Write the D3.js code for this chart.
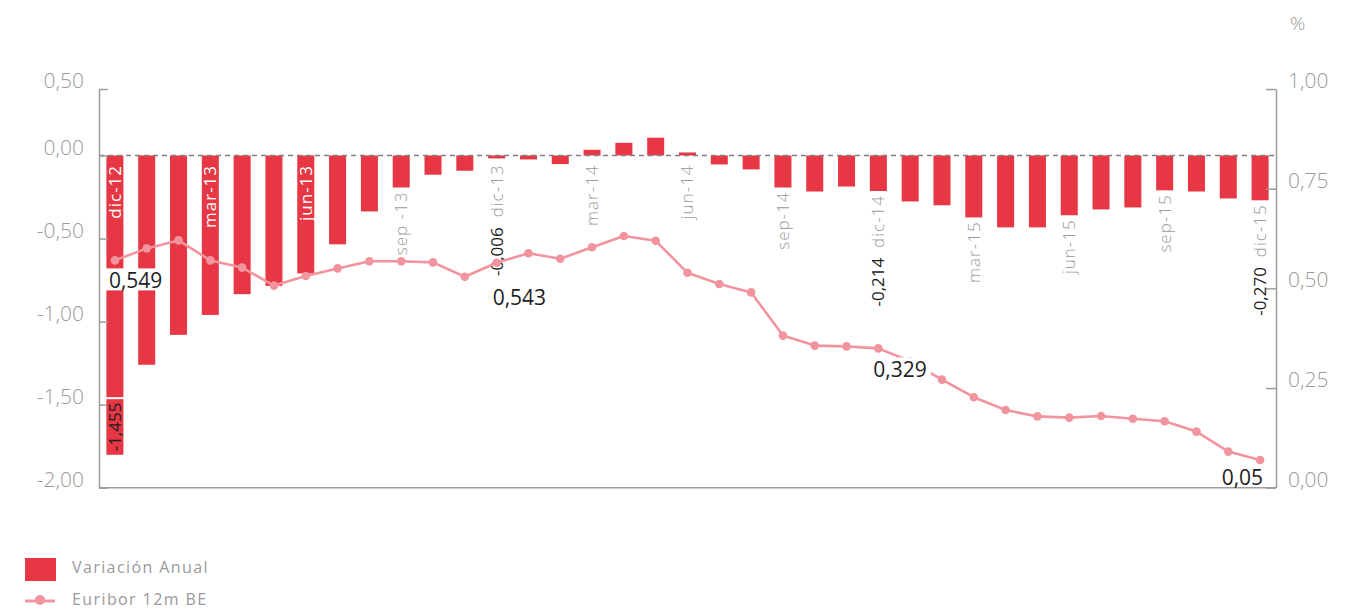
<!DOCTYPE html>
<html><head><meta charset="utf-8">
<script src="https://cdn.jsdelivr.net/npm/d3@7"></script>
<style>
html,body{margin:0;padding:0;background:#fff;}
svg{display:block;font-family:"Open Sans",sans-serif;}
</style></head><body>
<svg id="chart" width="1366" height="610"></svg>
<script>
const categories = ["dic-12","ene-13","feb-13","mar-13","abr-13","may-13","jun-13","jul-13","ago-13","sep-13","oct-13","nov-13",
  "dic-13","ene-14","feb-14","mar-14","abr-14","may-14","jun-14","jul-14","ago-14","sep-14","oct-14","nov-14",
  "dic-14","ene-15","feb-15","mar-15","abr-15","may-15","jun-15","jul-15","ago-15","sep-15","oct-15","nov-15","dic-15"];
const variacionAnual = [-1.455,-1.26,-1.08,-0.96,-0.835,-0.785,-0.71,-0.535,-0.337,-0.193,-0.116,-0.092,
  -0.006,-0.024,-0.052,0.034,0.076,0.107,0.016,-0.054,-0.084,-0.193,-0.217,-0.187,
  -0.214,-0.277,-0.30,-0.373,-0.433,-0.433,-0.36,-0.325,-0.313,-0.21,-0.217,-0.259,-0.270];
const euribor = [0.549,0.579,0.599,0.549,0.531,0.486,0.510,0.529,0.547,0.547,0.544,0.508,
  0.543,0.567,0.553,0.582,0.610,0.598,0.518,0.490,0.469,0.361,0.336,0.334,
  0.329,0.297,0.251,0.207,0.175,0.159,0.156,0.160,0.153,0.147,0.121,0.071,0.05];
const leftTickValues = [-2,-1.5,-1,-0.5,0,0.4];
const leftTickLabels = ["-2,00","-1,50","-1,00","-0,50","0,00","0,50"];
const rightTickValues = [0,0.25,0.5,0.75,1];
const rightTickLabels = ["0,00","0,25","0,50","0,75","1,00"];
const xTickCats = ["dic-12","mar-13","jun-13","sep-13","dic-13","mar-14","jun-14","sep-14","dic-14","mar-15","jun-15","sep-15","dic-15"];
const xTickLabels = ["dic-12","mar-13","jun-13","sep -13","dic-13","mar-14","jun-14","sep-14","dic-14","mar-15","jun-15","sep-15","dic-15"];
const barLabelCats = ["dic-12","dic-13","dic-14","dic-15"];
const barLabelTexts = ["-1,455","-0,006","-0,214","-0,270"];
const lineLabelCats = ["dic-12","dic-13","dic-14","dic-15"];
const lineLabelTexts = ["0,549","0,543","0,329","0,05"];
const seriesNames = ["Variación Anual","Euribor 12m BE"];
const unitLabel = "%";

// ---- styling / layout ----
const BAR = "#E83744", LINE = "#F2949D", GRAY = "#9a9a9a", AXIS = "#9d9d9d", DARK = "#1e1e1e";
const FONT = "'Open Sans', sans-serif";
const plot = {left: 99, right: 1276, top: 89, bottom: 487.7};
// per-label placement of the line value labels: [dx, dy, anchor, whiteBackground]
const lineLabelPlacement = {"dic-12": [-6, 20, "start", true], "dic-13": [-4, 35, "start", false],
  "dic-14": [-5, 21, "start", true], "dic-15": [3, 18, "end", false]};

const svg = d3.select("#chart");
const x = d3.scaleBand().domain(categories).range([plot.left, plot.right]).paddingInner(0.465).paddingOuter(0.2325);
const yL = d3.scaleLinear().domain([-2, 0.4]).range([plot.bottom, plot.top]);
const yR = d3.scaleLinear().domain([0, 1]).range([480, 80]);
const yRAxis = d3.scaleLinear().domain([0, 1]).range([plot.bottom, plot.top]);
const cx = c => x(c) + x.bandwidth() / 2;

// bars
svg.append("g").selectAll("rect").data(variacionAnual).join("rect")
  .attr("x", (d, i) => x(categories[i]))
  .attr("width", x.bandwidth())
  .attr("y", d => d < 0 ? yL(0) : yL(0) - Math.max(3, yL(0) - yL(d)))
  .attr("height", d => Math.max(3, Math.abs(yL(d) - yL(0))))
  .attr("fill", BAR);

// zero dashed line
svg.append("line").attr("x1", plot.left).attr("x2", plot.right)
  .attr("y1", yL(0)).attr("y2", yL(0))
  .attr("stroke", "#7f7f7f").attr("stroke-width", 1.4).attr("stroke-dasharray", "5,4");

// left axis
const gL = svg.append("g").attr("transform", `translate(${plot.left},0)`)
  .call(d3.axisRight(yL).tickValues(leftTickValues).tickSize(9).tickSizeOuter(0)
    .tickFormat((d, i) => leftTickLabels[i]));
gL.attr("font-family", FONT).attr("font-size", 21);
gL.select(".domain").attr("stroke", AXIS).attr("stroke-width", 1.5);
gL.selectAll(".tick line").attr("stroke", AXIS).attr("stroke-width", 1.5);
gL.selectAll(".tick text").attr("x", -15).attr("y", -8.5).attr("dy", "0.35em")
  .attr("text-anchor", "end").attr("fill", GRAY).style("font-weight", 300);

// right axis
const gR = svg.append("g").attr("transform", `translate(${plot.right},0)`)
  .call(d3.axisLeft(yRAxis).tickValues(rightTickValues).tickSize(10).tickSizeOuter(0)
    .tickFormat((d, i) => rightTickLabels[i]));
gR.attr("font-family", FONT).attr("font-size", 21);
gR.select(".domain").attr("stroke", AXIS).attr("stroke-width", 1.5);
gR.selectAll(".tick line").attr("stroke", AXIS).attr("stroke-width", 1.5);
gR.selectAll(".tick text").attr("x", 12).attr("y", -9).attr("dy", "0.35em")
  .attr("text-anchor", "start").attr("fill", GRAY).style("font-weight", 300);

// bottom axis line
svg.append("line").attr("x1", plot.left).attr("x2", plot.right)
  .attr("y1", plot.bottom).attr("y2", plot.bottom)
  .attr("stroke", AXIS).attr("stroke-width", 1.5);

// unit label
svg.append("text").attr("x", 1290).attr("y", 30).text(unitLabel)
  .attr("fill", GRAY).style("font-family", FONT).style("font-size", "19px").style("font-weight", 300);

// category labels (rotated)
const catG = svg.append("g");
const catInfo = {};
xTickCats.forEach((c, k) => {
  const v = variacionAnual[categories.indexOf(c)];
  const t = catG.append("text").text(xTickLabels[k])
    .attr("text-anchor", "end").attr("dy", "0.35em")
    .style("font-family", FONT).style("font-size", "17px").style("letter-spacing", "1px");
  const len = t.node().getComputedTextLength();
  const barLen = yL(v) - yL(0);
  const inside = barLen > len + 20;
  const top = inside ? yL(0) + 9.5 : Math.max(yL(v), yL(0) + 5) + 4;
  t.attr("transform", `translate(${cx(c)},${top}) rotate(-90)`)
    .attr("fill", inside ? "#ffffff" : GRAY)
    .style("font-weight", inside ? 400 : 300);
  catInfo[c] = {top, len, inside};
});

// bar value labels
const bvG = svg.append("g");
barLabelCats.forEach((c, k) => {
  const info = catInfo[c];
  const v = variacionAnual[categories.indexOf(c)];
  if (info && info.inside) {
    const y0 = yL(v) + 2, h = 55.6;
    bvG.append("rect").attr("x", x(c)).attr("width", x.bandwidth())
      .attr("y", y0).attr("height", h).attr("fill", BAR);
    bvG.append("text").text(barLabelTexts[k]).attr("text-anchor", "middle").attr("dy", "0.35em")
      .attr("transform", `translate(${cx(c)},${y0 + h / 2}) rotate(-90)`)
      .attr("fill", DARK).style("font-family", FONT).style("font-size", "17px");
  } else {
    const yEnd = info.top + info.len + 9;
    bvG.append("text").text(barLabelTexts[k]).attr("text-anchor", "end").attr("dy", "0.35em")
      .attr("transform", `translate(${cx(c)},${yEnd}) rotate(-90)`)
      .attr("fill", DARK).style("font-family", FONT).style("font-size", "17px");
  }
});

// euribor line
const line = d3.line().x((d, i) => cx(categories[i])).y(d => yR(d));
svg.append("path").datum(euribor).attr("d", line)
  .attr("fill", "none").attr("stroke", LINE).attr("stroke-width", 2.6).attr("stroke-linejoin", "round");
svg.append("g").selectAll("circle").data(euribor).join("circle")
  .attr("cx", (d, i) => cx(categories[i])).attr("cy", d => yR(d)).attr("r", 4.3).attr("fill", LINE);

// line value labels
const lvG = svg.append("g");
lineLabelCats.forEach((c, k) => {
  const v = euribor[categories.indexOf(c)];
  const [dx, dy, anchor, bg] = lineLabelPlacement[c];
  const px = cx(c), py = yR(v);
  const g = lvG.append("g");
  const rect = g.append("rect").attr("fill", "#fff");
  const t = g.append("text").text(lineLabelTexts[k])
    .attr("x", px + dx).attr("y", py + dy).attr("dy", "0.35em").attr("text-anchor", anchor)
    .attr("fill", DARK).style("font-family", FONT).style("font-size", "21px");
  if (bg) {
    const bb = t.node().getBBox();
    rect.attr("x", bb.x - 4).attr("width", bb.width + 8)
      .attr("y", py + dy - 12).attr("height", 22);
  } else rect.remove();
});

// legend
const lg = svg.append("g");
lg.append("rect").attr("x", 25).attr("y", 558).attr("width", 31).attr("height", 23).attr("fill", BAR);
lg.append("line").attr("x1", 25).attr("x2", 55).attr("y1", 601).attr("y2", 601)
  .attr("stroke", LINE).attr("stroke-width", 3);
lg.append("circle").attr("cx", 40).attr("cy", 600).attr("r", 5).attr("fill", LINE);
lg.selectAll("text.leg").data(seriesNames).join("text").attr("class", "leg")
  .attr("x", 72).attr("y", (d, i) => i === 0 ? 573 : 605).text(d => d)
  .attr("fill", GRAY).style("font-family", FONT).style("font-size", "16px")
  .style("letter-spacing", "1.4px").style("font-weight", 400);
</script>
</body></html>
